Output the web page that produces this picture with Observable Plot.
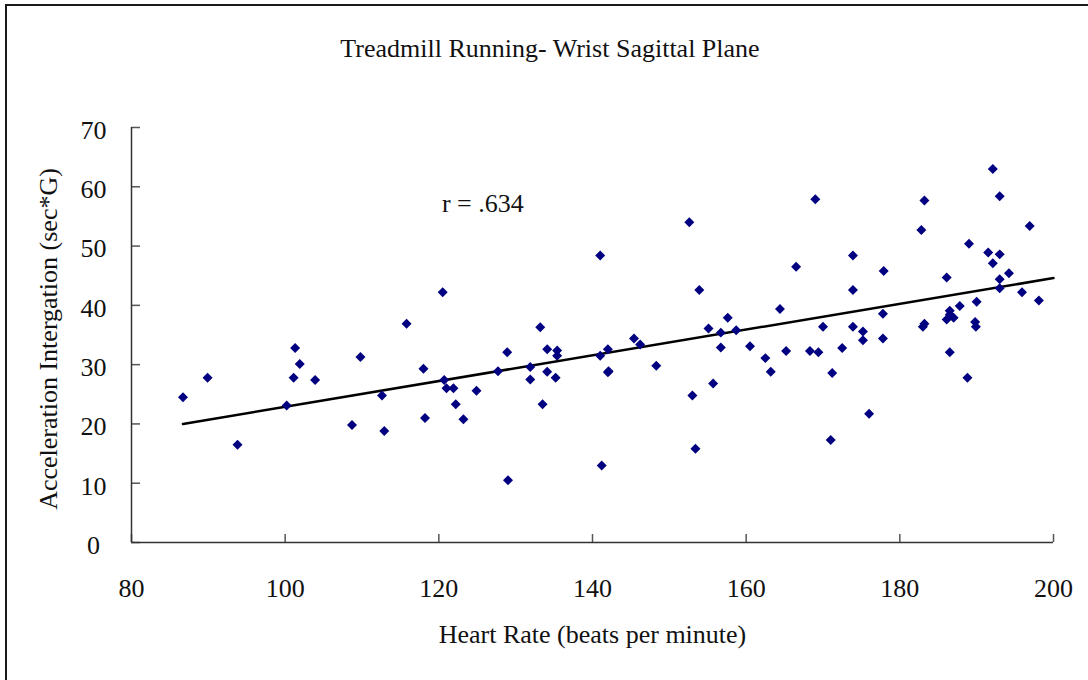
<!DOCTYPE html>
<html>
<head>
<meta charset="utf-8">
<script src="https://cdn.jsdelivr.net/npm/d3@7"></script>
<script src="https://cdn.jsdelivr.net/npm/@observablehq/plot@0.6"></script>
<style>
  html, body { margin: 0; padding: 0; background: #fff; overflow: hidden; }
  #wrap { position: relative; width: 1088px; height: 680px; font-family: "Liberation Serif", "Times New Roman", serif; }
  #border { position: absolute; left: 5px; top: 4px; width: 1200px; height: 800px; border-top: 2px solid #1a1a1a; border-left: 2px solid #1a1a1a; pointer-events: none; }
  #title { position: absolute; left: 0; top: 34px; width: 1100px; text-align: center; font-size: 26px; line-height: 30px; color: #111; }
  #chart { position: absolute; left: 0; top: 0; }
</style>
</head>
<body>
<div id="wrap">
  <div id="chart"></div>
  <div id="title">Treadmill Running- Wrist Sagittal Plane</div>
  <div id="border"></div>
</div>
<script>
// Heart rate (beats per minute)
const heartRate = [
  86.7, 89.9, 93.8, 100.2, 101.1, 101.3, 101.9, 103.9, 108.7, 109.8,
  112.6, 112.9, 115.8, 118.0, 118.2, 120.5, 120.7, 121.0, 121.9, 122.2,
  123.2, 124.9, 127.7, 128.9, 129.0, 131.9, 131.9, 133.2, 133.5, 134.1,
  134.1, 135.2, 135.4, 135.4, 141.0, 141.0, 141.2, 142.0, 142.0, 142.1,
  145.4, 146.2, 148.3, 152.6, 153.0, 153.4, 153.9, 155.1, 155.7, 156.7,
  156.7, 157.6, 158.7, 160.5, 162.5, 163.2, 164.4, 165.2, 166.5, 168.3,
  169.0, 169.4, 170.0, 171.2, 171.0, 172.5, 173.9, 173.9, 173.9, 175.2,
  175.2, 176.0, 177.8, 177.8, 177.9, 182.8, 183.0, 183.2, 183.2, 186.1,
  186.1, 186.5, 186.5, 186.5, 187.0, 187.8, 188.8, 189.0, 189.8, 189.9,
  190.0, 191.5, 192.1, 192.1, 193.0, 193.0, 193.0, 193.0, 194.2, 195.9,
  196.9, 198.1
];
// Acceleration integration (sec*G)
const accel = [
  24.5, 27.8, 16.5, 23.1, 27.8, 32.8, 30.1, 27.4, 19.8, 31.3,
  24.8, 18.8, 36.9, 29.3, 21.0, 42.2, 27.4, 26.0, 26.0, 23.3,
  20.8, 25.6, 28.9, 32.1, 10.5, 29.6, 27.5, 36.3, 23.3, 32.6,
  28.8, 27.8, 32.4, 31.5, 48.4, 31.5, 13.0, 32.6, 28.7, 28.9,
  34.4, 33.4, 29.8, 54.0, 24.8, 15.8, 42.6, 36.1, 26.8, 35.4,
  32.9, 37.9, 35.8, 33.1, 31.1, 28.8, 39.4, 32.3, 46.5, 32.3,
  57.9, 32.1, 36.4, 28.6, 17.3, 32.8, 48.4, 42.6, 36.4, 35.6,
  34.1, 21.7, 38.6, 34.4, 45.8, 52.7, 36.4, 36.9, 57.7, 44.7,
  37.6, 39.1, 38.4, 32.1, 37.9, 39.9, 27.8, 50.4, 37.2, 36.4,
  40.6, 48.9, 63.0, 47.1, 58.4, 48.6, 44.4, 42.9, 45.4, 42.2,
  53.4, 40.8
];
// Trend line end points
const trendX = [86.7, 200];
const trendY = [20.0, 44.6];
// Tick values
const xTicks = [80, 100, 120, 140, 160, 180, 200];
const yTicks = [0, 10, 20, 30, 40, 50, 60, 70];
// Texts
const xTitle = "Heart Rate (beats per minute)";
const yTitle = "Acceleration Intergation (sec*G)";
const annotation = [{label: "r = .634", x: 120.4, y: 57.2}];

const points = heartRate.map((x, i) => ({x, y: accel[i]}));
const trend = trendX.map((x, i) => ({x, y: trendY[i]}));

const W = 1088, H = 680;
const mL = 131, mR = 35, mT = 127, mB = 138;
const fw = W - mL - mR, fh = H - mT - mB;

const chart = Plot.plot({
  width: W,
  height: H,
  marginLeft: mL,
  marginRight: mR,
  marginTop: mT,
  marginBottom: mB,
  style: {fontFamily: "'Liberation Serif', 'Times New Roman', serif", fontSize: "25px", color: "#111", background: "transparent"},
  x: {domain: [80, 200]},
  y: {domain: [0, 70]},
  marks: [
    // inward tick marks
    Plot.ruleX(xTicks, {x: d => d, stroke: "#555", strokeWidth: 1.5, insetTop: fh - 8}),
    Plot.ruleY(yTicks, {y: d => d, stroke: "#555", strokeWidth: 1.5, insetRight: fw - 9}),
    // axis lines
    Plot.ruleX([80], {stroke: "#333", strokeWidth: 1.5}),
    Plot.ruleY([0], {stroke: "#333", strokeWidth: 1.5}),
    Plot.axisX(xTicks, {tickSize: 0, tickPadding: 36, fontSize: 26, label: null}),
    Plot.axisY(yTicks, {tickSize: 0, tickPadding: 38, textAnchor: "middle", dy: 3, fontSize: 26, label: null}),
    // trend line
    Plot.line(trend, {x: "x", y: "y", stroke: "#000", strokeWidth: 2.5}),
    // data points
    Plot.dot(points, {x: "x", y: "y", symbol: "diamond2", r: 4.5, fill: "#000080", stroke: "none"}),
    // annotation
    Plot.text(annotation, {x: "x", y: "y", text: "label", textAnchor: "start", fontSize: 26, fill: "#111"}),
    // axis titles
    Plot.text([xTitle], {frameAnchor: "bottom", text: d => d, dy: 100, fontSize: 26, fill: "#111"}),
    Plot.text([yTitle], {frameAnchor: "left", text: d => d, textAnchor: "middle", dx: -83, dy: 4, rotate: -90, fontSize: 26, fill: "#111"})
  ]
});
document.getElementById("chart").appendChild(chart);
</script>
</body>
</html>
